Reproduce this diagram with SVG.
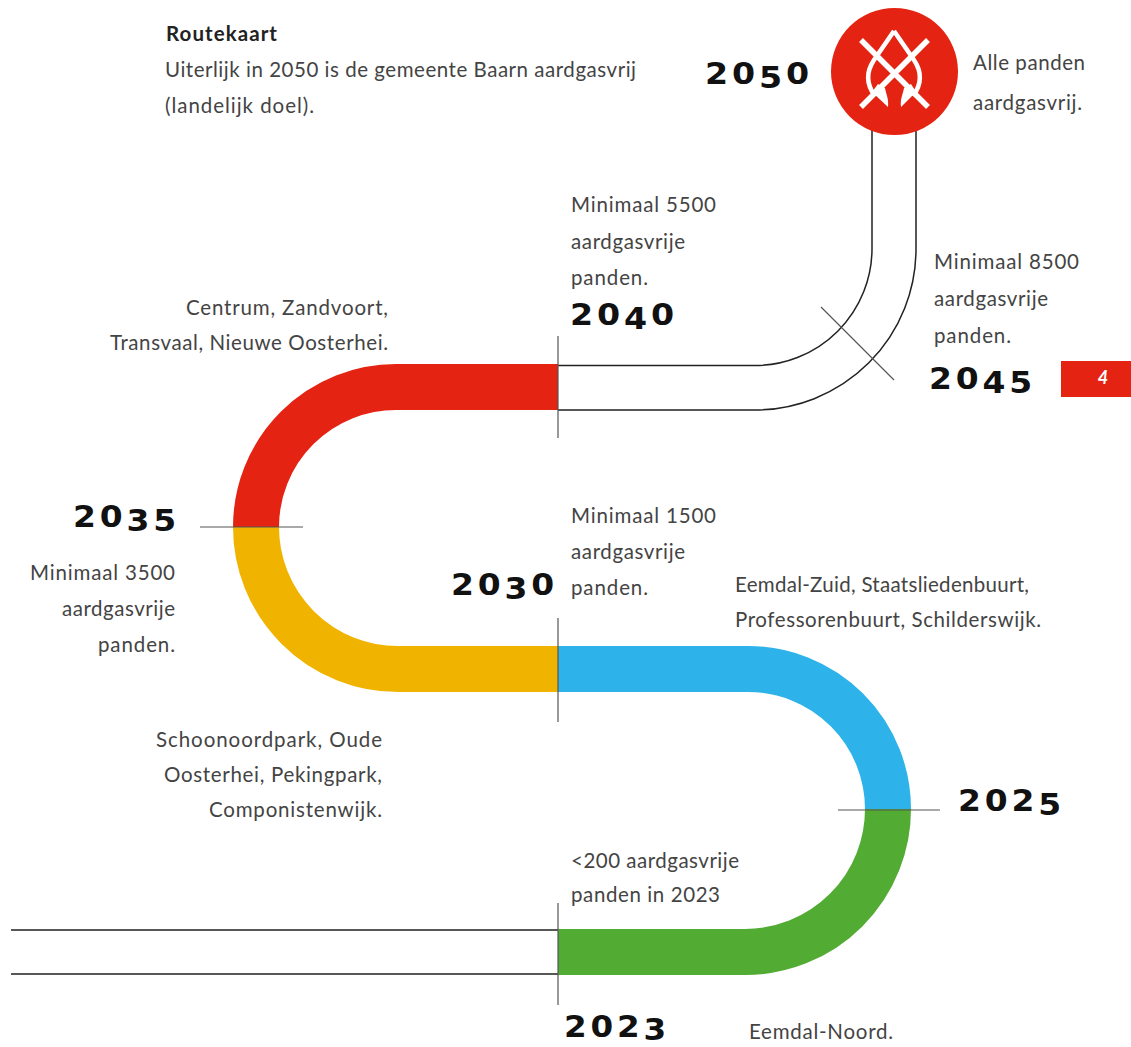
<svg xmlns="http://www.w3.org/2000/svg" width="1131" height="1047" viewBox="0 0 1131 1047">
<style>
.t{font-family:"Lato","Open Sans","Liberation Sans",sans-serif;font-size:20.500px;fill:#444}
.e{text-anchor:end}
.b{font-weight:700;fill:#222}
.y{font-family:"DejaVu Sans",sans-serif;font-weight:700;font-size:30px;fill:#111;letter-spacing:3.500px}
.band{fill:none;stroke-width:46}
.line{fill:none;stroke:#222;stroke-width:1.5}
.tick{fill:none;stroke:#555;stroke-width:1.2}
</style>
<rect width="1131" height="1047" fill="#fff"/>
<g id="connectors">
<path class="band" stroke="#e42313" d="M558 387H396A140 140 0 0 0 256 527"/>
<path class="band" stroke="#f0b400" d="M256 527A142 142 0 0 0 398 669H558"/>
<path class="band" stroke="#2db2ea" d="M558 669H748A140 140 0 0 1 888 809"/>
<path class="band" stroke="#52ab32" d="M888 809A143 143 0 0 1 745 952H558"/>
<path class="line" d="M558 365.500H755A117 117 0 0 0 872 248.500V125"/>
<path class="line" d="M558 410H755A161 161 0 0 0 916 249V125"/>
<path class="line" d="M11 930H558M11 974H558"/>
<path class="tick" d="M558 336V438M558 618V722M558 903V1005M200 527H303M838 810H940M821 307L894 380"/>
</g>
<g id="node-2050">
<circle cx="894.500" cy="71.500" r="63.500" fill="#e42313"/>
<path d="M861 40L928 107M928 40L861 107" fill="none" stroke="#fff" stroke-width="5.500"/>
<path d="M894 31L874 60C866 72 866 84 875 96M894 31L914 60C922 72 922 84 913 96" fill="none" stroke="#fff" stroke-width="4.500"/>
<path d="M872 92L888 107C889 99 886 94 885 88L878 84ZM916 92L901 107C900 99 903 94 904 88L911 84Z" fill="#fff"/>
<text class="y" x="705" y="84" dy="0 0 4 -4" textLength="108" lengthAdjust="spacingAndGlyphs">2050</text>
<text class="t" x="973" y="70" textLength="112">Alle panden</text>
<text class="t" x="973" y="110" textLength="109">aardgasvrij.</text>
</g>
<g id="node-intro">
<text class="t b" x="166" y="41" textLength="111">Routekaart</text>
<text class="t" x="165" y="77" textLength="471">Uiterlijk in 2050 is de gemeente Baarn aardgasvrij</text>
<text class="t" x="165" y="113" textLength="149">(landelijk doel).</text>
</g>
<g id="node-2045">
<text class="t" x="934" y="269" textLength="145">Minimaal 8500</text>
<text class="t" x="934" y="306" textLength="114">aardgasvrije</text>
<text class="t" x="934" y="343" textLength="77">panden.</text>
<text class="y" x="929" y="389" dy="0 0 4 0" textLength="107" lengthAdjust="spacingAndGlyphs">2045</text>
</g>
<g id="node-2040">
<text class="t" x="571" y="212" textLength="145">Minimaal 5500</text>
<text class="t" x="571" y="249" textLength="114">aardgasvrije</text>
<text class="t" x="571" y="285" textLength="77">panden.</text>
<text class="y" x="570" y="325" dy="0 0 4 -4" textLength="108" lengthAdjust="spacingAndGlyphs">2040</text>
<text class="t e" x="388" y="315" textLength="202">Centrum, Zandvoort,</text>
<text class="t e" x="388" y="350" textLength="278">Transvaal, Nieuwe Oosterhei.</text>
</g>
<g id="node-2035">
<text class="y" x="73" y="527" dy="0 0 4 0" textLength="107" lengthAdjust="spacingAndGlyphs">2035</text>
<text class="t e" x="175" y="580" textLength="145">Minimaal 3500</text>
<text class="t e" x="175" y="616" textLength="113">aardgasvrije</text>
<text class="t e" x="175" y="652" textLength="77">panden.</text>
</g>
<g id="node-2030">
<text class="t" x="571" y="523" textLength="145">Minimaal 1500</text>
<text class="t" x="571" y="559" textLength="114">aardgasvrije</text>
<text class="t" x="571" y="595" textLength="77">panden.</text>
<text class="y" x="451" y="595" dy="0 0 4 -4" textLength="107" lengthAdjust="spacingAndGlyphs">2030</text>
<text class="t" x="735" y="592" textLength="294">Eemdal-Zuid, Staatsliedenbuurt,</text>
<text class="t" x="735" y="627" textLength="306">Professorenbuurt, Schilderswijk.</text>
</g>
<g id="node-2025">
<text class="y" x="958" y="811" dy="0 0 0 4" textLength="107" lengthAdjust="spacingAndGlyphs">2025</text>
<text class="t e" x="382" y="747" textLength="226">Schoonoordpark, Oude</text>
<text class="t e" x="382" y="782" textLength="218">Oosterhei, Pekingpark,</text>
<text class="t e" x="382" y="817" textLength="173">Componistenwijk.</text>
</g>
<g id="node-2023">
<text class="t" x="571" y="868" textLength="168">&lt;200 aardgasvrije</text>
<text class="t" x="571" y="902" textLength="149">panden in 2023</text>
<text class="y" x="564" y="1037" dy="0 0 0 2.500" textLength="106" lengthAdjust="spacingAndGlyphs">2023</text>
<text class="t" x="749" y="1039" textLength="144">Eemdal-Noord.</text>
</g>
<g id="page">
<rect x="1061" y="361" width="70" height="36" fill="#e42313"/>
<text x="1103" y="384" text-anchor="middle" font-family="Lato,'Open Sans',sans-serif" font-style="italic" font-weight="700" font-size="18" fill="#fff">4</text>
</g>
</svg>
